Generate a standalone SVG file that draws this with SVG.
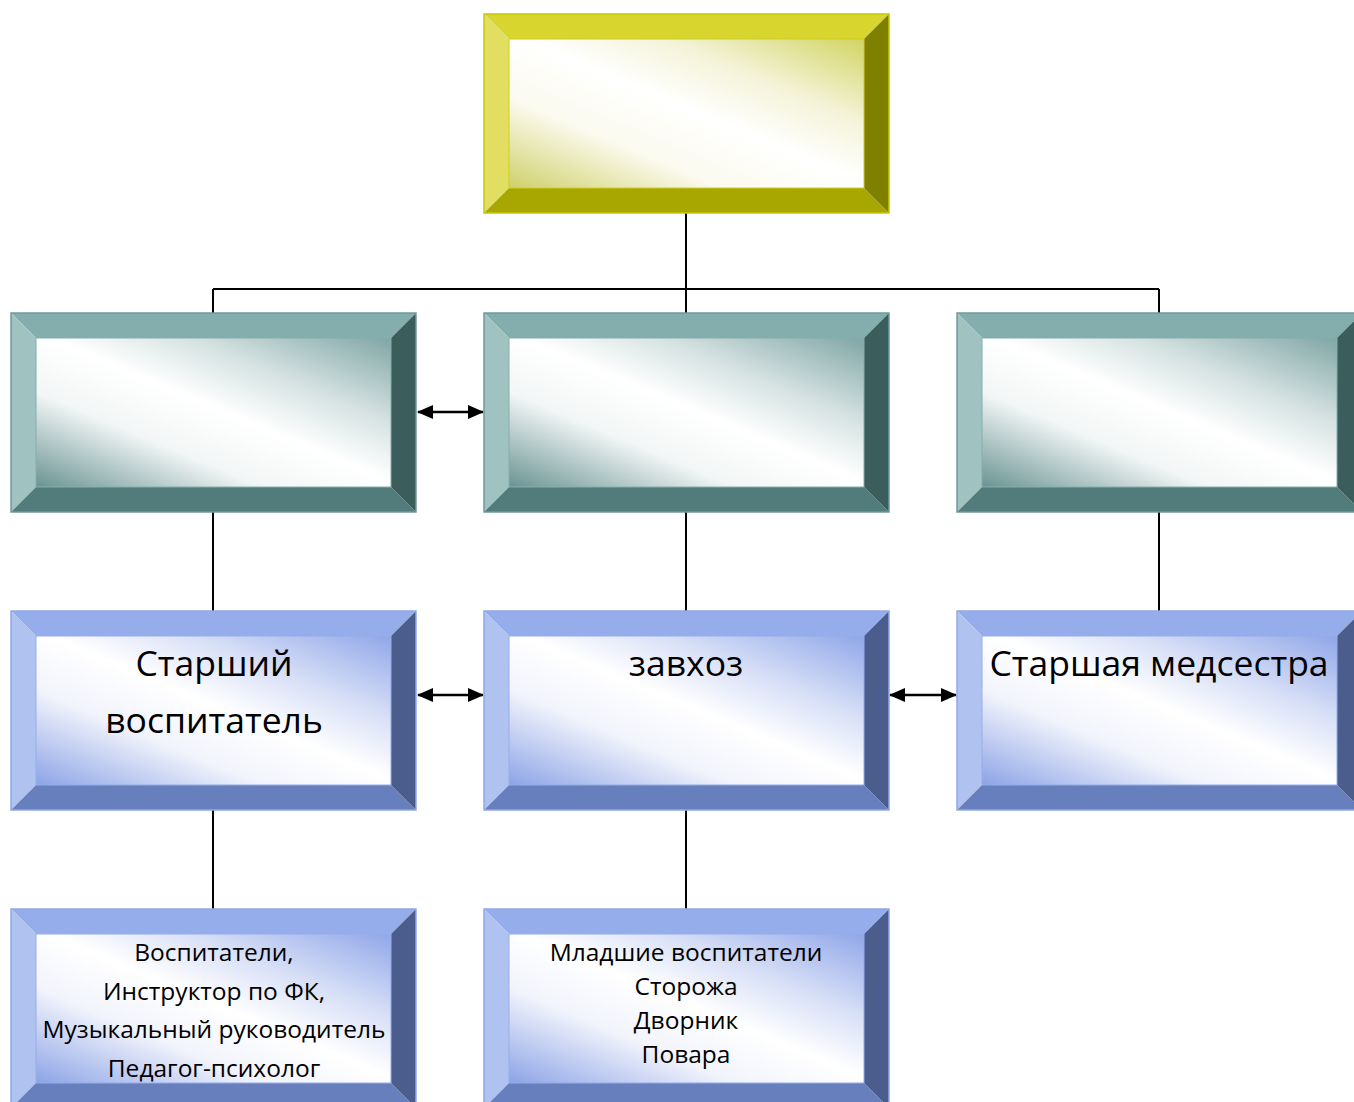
<svg xmlns="http://www.w3.org/2000/svg" width="1354" height="1102" viewBox="0 0 1354 1102">
<style>
.bg{fill:#fff}
.line{stroke:#000;stroke-width:2;fill:none}
.arr{stroke:#000;stroke-width:2.5;fill:none;marker-start:url(#ah);marker-end:url(#ah)}
.y .t{fill:#D7D52E}.y .l{fill:#E1DE62}.y .b{fill:#A8A600}.y .r{fill:#7F7F00}.y .o{stroke:#C9C700}.y .i{fill:url(#gy);stroke:#D0CE20}
.te .t{fill:#84AEAD}.te .l{fill:#A0C2C1}.te .b{fill:#527C7B}.te .r{fill:#3B5D5C}.te .o{stroke:#6E9A99}.te .i{fill:url(#gt);stroke:#84AEAD}
.bl .t{fill:#95ADEA}.bl .l{fill:#B0C2F0}.bl .b{fill:#677FBC}.bl .r{fill:#4A5D8C}.bl .o{stroke:#8FA8E8}.bl .i{fill:url(#gb);stroke:#95ADEA}
.o{fill:none;stroke-width:1.5}
.i{stroke-width:1}
.txt{font-family:"Open Sans","Noto Sans","Liberation Sans",sans-serif;fill:#000;text-anchor:middle}
.big{font-size:35.5px}
.sm{font-size:24.5px}
</style>
<defs>
<linearGradient id="gy" x1="1" y1="0" x2="0" y2="1">
<stop offset="0" stop-color="#D2D462"/>
<stop offset="0.28" stop-color="#F4F3D8"/>
<stop offset="0.48" stop-color="#FFFFFF"/>
<stop offset="0.7" stop-color="#FBFAEE"/>
<stop offset="1" stop-color="#CFD06A"/>
</linearGradient>
<linearGradient id="gt" x1="1" y1="0" x2="0" y2="1">
<stop offset="0" stop-color="#7FA6A5"/>
<stop offset="0.28" stop-color="#D5E1E1"/>
<stop offset="0.48" stop-color="#FFFFFF"/>
<stop offset="0.68" stop-color="#F3F6F6"/>
<stop offset="1" stop-color="#6A9393"/>
</linearGradient>
<linearGradient id="gb" x1="1" y1="0" x2="0" y2="1">
<stop offset="0" stop-color="#90A6E8"/>
<stop offset="0.28" stop-color="#D8E0F7"/>
<stop offset="0.48" stop-color="#FFFFFF"/>
<stop offset="0.68" stop-color="#F2F4FC"/>
<stop offset="1" stop-color="#8CA3E6"/>
</linearGradient>
<marker id="ah" viewBox="0 0 16 14" refX="15" refY="7" markerWidth="16" markerHeight="14" markerUnits="userSpaceOnUse" orient="auto-start-reverse">
<path d="M0,0 L16,7 L0,14 Z" fill="#000"/>
</marker>
</defs>
<rect class="bg" x="0" y="0" width="1354" height="1102"/>

<g id="connectors">
<path class="line" d="M686,213 V289 M213,289 H1159 M213,289 V313 M686,289 V313 M1159,289 V313"/>
<path class="line" d="M213,512 V611 M686,512 V611 M1159,512 V611"/>
<path class="line" d="M213,810 V909 M686,810 V909"/>
<line class="arr" x1="418" y1="412" x2="483" y2="412"/>
<line class="arr" x1="418" y1="695" x2="483" y2="695"/>
<line class="arr" x1="890" y1="695" x2="956" y2="695"/>
</g>

<g id="top" class="y" transform="translate(484,14)">
<polygon class="t" points="0,0 405,0 380,25 25,25"/>
<polygon class="l" points="0,0 25,25 25,174 0,199"/>
<polygon class="b" points="0,199 25,174 380,174 405,199"/>
<polygon class="r" points="405,0 405,199 380,174 380,25"/>
<rect class="i" x="25" y="25" width="355" height="149"/>
<rect class="o" x="0" y="0" width="405" height="199"/>
</g>

<g id="mid-left" class="te" transform="translate(11,313)">
<polygon class="t" points="0,0 405,0 380,25 25,25"/>
<polygon class="l" points="0,0 25,25 25,174 0,199"/>
<polygon class="b" points="0,199 25,174 380,174 405,199"/>
<polygon class="r" points="405,0 405,199 380,174 380,25"/>
<rect class="i" x="25" y="25" width="355" height="149"/>
<rect class="o" x="0" y="0" width="405" height="199"/>
</g>
<g id="mid-center" class="te" transform="translate(484,313)">
<polygon class="t" points="0,0 405,0 380,25 25,25"/>
<polygon class="l" points="0,0 25,25 25,174 0,199"/>
<polygon class="b" points="0,199 25,174 380,174 405,199"/>
<polygon class="r" points="405,0 405,199 380,174 380,25"/>
<rect class="i" x="25" y="25" width="355" height="149"/>
<rect class="o" x="0" y="0" width="405" height="199"/>
</g>
<g id="mid-right" class="te" transform="translate(957,313)">
<polygon class="t" points="0,0 405,0 380,25 25,25"/>
<polygon class="l" points="0,0 25,25 25,174 0,199"/>
<polygon class="b" points="0,199 25,174 380,174 405,199"/>
<polygon class="r" points="405,0 405,199 380,174 380,25"/>
<rect class="i" x="25" y="25" width="355" height="149"/>
<rect class="o" x="0" y="0" width="405" height="199"/>
</g>

<g id="senior-teacher" class="bl" transform="translate(11,611)">
<polygon class="t" points="0,0 405,0 380,25 25,25"/>
<polygon class="l" points="0,0 25,25 25,174 0,199"/>
<polygon class="b" points="0,199 25,174 380,174 405,199"/>
<polygon class="r" points="405,0 405,199 380,174 380,25"/>
<rect class="i" x="25" y="25" width="355" height="149"/>
<rect class="o" x="0" y="0" width="405" height="199"/>
<text class="txt big" x="203" y="65">Старший</text>
<text class="txt big" x="203" y="122">воспитатель</text>
</g>
<g id="zavhoz" class="bl" transform="translate(484,611)">
<polygon class="t" points="0,0 405,0 380,25 25,25"/>
<polygon class="l" points="0,0 25,25 25,174 0,199"/>
<polygon class="b" points="0,199 25,174 380,174 405,199"/>
<polygon class="r" points="405,0 405,199 380,174 380,25"/>
<rect class="i" x="25" y="25" width="355" height="149"/>
<rect class="o" x="0" y="0" width="405" height="199"/>
<text class="txt big" x="202" y="65">завхоз</text>
</g>
<g id="nurse" class="bl" transform="translate(957,611)">
<polygon class="t" points="0,0 405,0 380,25 25,25"/>
<polygon class="l" points="0,0 25,25 25,174 0,199"/>
<polygon class="b" points="0,199 25,174 380,174 405,199"/>
<polygon class="r" points="405,0 405,199 380,174 380,25"/>
<rect class="i" x="25" y="25" width="355" height="149"/>
<rect class="o" x="0" y="0" width="405" height="199"/>
<text class="txt big" x="202" y="65">Старшая медсестра</text>
</g>

<g id="teachers" class="bl" transform="translate(11,909)">
<polygon class="t" points="0,0 405,0 380,25 25,25"/>
<polygon class="l" points="0,0 25,25 25,174 0,199"/>
<polygon class="b" points="0,199 25,174 380,174 405,199"/>
<polygon class="r" points="405,0 405,199 380,174 380,25"/>
<rect class="i" x="25" y="25" width="355" height="149"/>
<rect class="o" x="0" y="0" width="405" height="199"/>
<text class="txt sm" x="203" y="52">Воспитатели,</text>
<text class="txt sm" x="203" y="91">Инструктор по ФК,</text>
<text class="txt sm" x="203" y="129">Музыкальный руководитель</text>
<text class="txt sm" x="203" y="168">Педагог-психолог</text>
</g>
<g id="staff" class="bl" transform="translate(484,909)">
<polygon class="t" points="0,0 405,0 380,25 25,25"/>
<polygon class="l" points="0,0 25,25 25,174 0,199"/>
<polygon class="b" points="0,199 25,174 380,174 405,199"/>
<polygon class="r" points="405,0 405,199 380,174 380,25"/>
<rect class="i" x="25" y="25" width="355" height="149"/>
<rect class="o" x="0" y="0" width="405" height="199"/>
<text class="txt sm" x="202" y="52">Младшие воспитатели</text>
<text class="txt sm" x="202" y="86">Сторожа</text>
<text class="txt sm" x="202" y="120">Дворник</text>
<text class="txt sm" x="202" y="154">Повара</text>
</g>
</svg>
